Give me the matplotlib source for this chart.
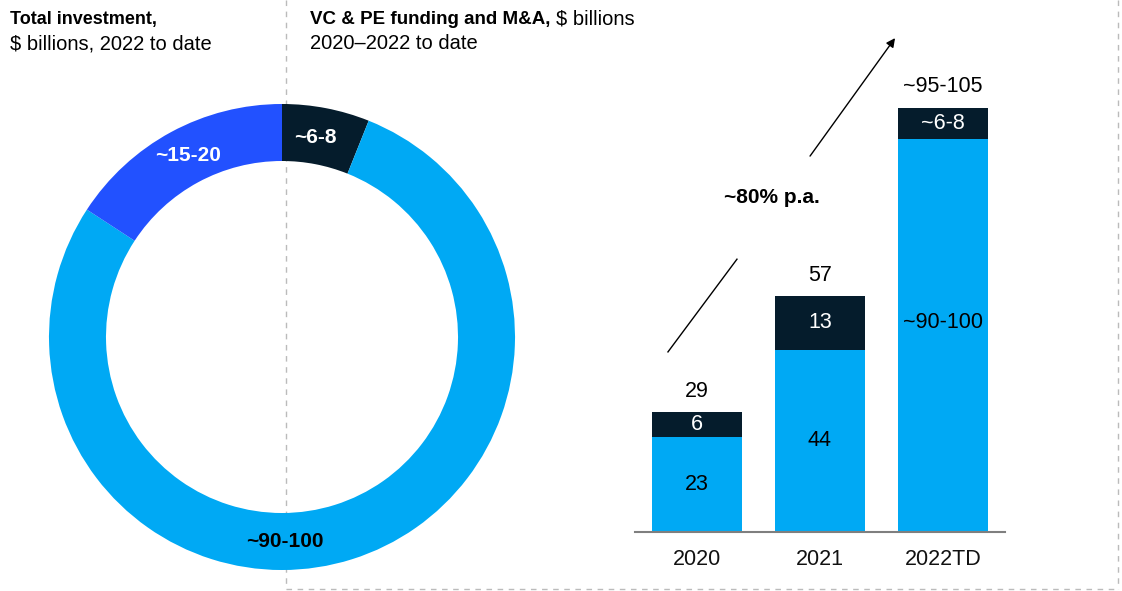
import matplotlib
matplotlib.use("Agg")
import matplotlib.pyplot as plt
from matplotlib.lines import Line2D

plt.rcParams["font.family"] = ["Liberation Sans", "DejaVu Sans"]

# donut: total investment, $ billions, 2022 to date
donut_values = [7.3, 94, 19]
donut_labels = ["~6-8", "~90-100", "~15-20"]

# bars: VC & PE funding and M&A
years = ["2020", "2021", "2022TD"]
light_vals = [23, 44, 95]
dark_vals = [6, 13, 7.5]
light_labels = ["23", "44", "~90-100"]
dark_labels = ["6", "13", "~6-8"]
total_labels = ["29", "57", "~95-105"]

DARK = "#051C2C"
LIGHT = "#00A9F4"
ROYAL = "#2251FF"
W, H = 1122, 591

fig = plt.figure(figsize=(W / 100, H / 100), dpi=100)


def px_box(x0, y0, x1, y1):
    # pixel box (top-left origin) -> figure fraction rect
    return [x0 / W, 1 - y1 / H, (x1 - x0) / W, (y1 - y0) / H]


def fx(x):
    return x / W


def fy(y):
    return 1 - y / H


# dashed frame around right panel
dash = dict(color="#BBBBBB", lw=1, ls=(0, (4, 4)), transform=fig.transFigure, zorder=-5)
fig.add_artist(Line2D([fx(285.5), fx(285.5)], [fy(0), fy(589)], **dash))
fig.add_artist(Line2D([fx(285.5), fx(1118)], [fy(589), fy(589)], **dash))
fig.add_artist(Line2D([fx(1118), fx(1118)], [fy(0), fy(589)], **dash))

# ---- donut ----
ax1 = fig.add_axes(px_box(42, 97, 522, 577))
ax1.pie(donut_values, colors=[DARK, LIGHT, ROYAL], startangle=90, counterclock=False,
        radius=1, wedgeprops=dict(width=57 / 233, linewidth=0))
ax1.set_xlim(-1.03, 1.03)
ax1.set_ylim(-1.03, 1.03)
ax1.set_aspect("equal")
ax1.axis("off")
lab_kw = dict(ha="center", va="center", fontsize=15, fontweight="bold")
ax1.text(0.142, 0.858, donut_labels[0], color="white", **lab_kw)
ax1.text(0.013, -0.876, donut_labels[1], color="black", **lab_kw)
ax1.text(-0.403, 0.781, donut_labels[2], color="white", **lab_kw)

# ---- stacked bars ----
ax2 = fig.add_axes(px_box(635, 30, 1005, 532))
x = list(range(len(years)))
bw = 90 / 123
ax2.bar(x, light_vals, width=bw, color=LIGHT, linewidth=0)
ax2.bar(x, dark_vals, width=bw, bottom=light_vals, color=DARK, linewidth=0)
ax2.set_xlim(-0.504, 2.504)
ax2.set_ylim(0, 502 / 4.14)
for s in ["top", "right", "left"]:
    ax2.spines[s].set_visible(False)
ax2.spines["bottom"].set_color("#7F7F7F")
ax2.spines["bottom"].set_linewidth(1.5)
ax2.set_yticks([])
ax2.set_xticks(x)
ax2.set_xticklabels(years, fontsize=15.5, color="#111111")
ax2.tick_params(axis="x", length=0, pad=12)
ax2.patch.set_visible(False)

for i in x:
    lv, dv = light_vals[i], dark_vals[i]
    # tall bar: label sits a bit above the segment centre, as in the source
    ly = lv / 2 if lv < 60 else lv / 2 + 3
    ax2.text(i, ly, light_labels[i], ha="center", va="center", fontsize=15.5, color="black")
    ax2.text(i, lv + dv / 2, dark_labels[i], ha="center", va="center", fontsize=15.5, color="white")
    ax2.text(i, lv + dv + 5, total_labels[i], ha="center", va="center", fontsize=15.5, color="black")

# growth arrow
ax2.plot([-0.236, 0.325], [43.5, 65.9], color="black", lw=1, clip_on=False)
ax2.annotate("", xy=(1.61, 119.3), xytext=(0.919, 90.8), annotation_clip=False,
             arrowprops=dict(arrowstyle="-|>", color="black", lw=1, mutation_scale=13,
                             shrinkA=0, shrinkB=0))
ax2.text(0.61, 80.9, "~80% p.a.", ha="center", va="center", fontsize=15, fontweight="bold")

# ---- titles ----
fig.text(fx(10), fy(24), "Total investment,", fontsize=13, fontweight="bold", va="baseline")
fig.text(fx(10), fy(49), "$ billions, 2022 to date", fontsize=14.5, va="baseline")
t_bold = fig.text(fx(310), fy(24), "VC & PE funding and M&A,", fontsize=13.5,
                  fontweight="bold", va="baseline")
fig.canvas.draw()
bb = t_bold.get_window_extent()
fig.text(bb.x1 / W + 6 / W, fy(24), "$ billions", fontsize=14.5, va="baseline")
fig.text(fx(310), fy(49), "2020\u20132022 to date", fontsize=14.5, va="baseline")

fig.savefig("out.png", dpi=100)
